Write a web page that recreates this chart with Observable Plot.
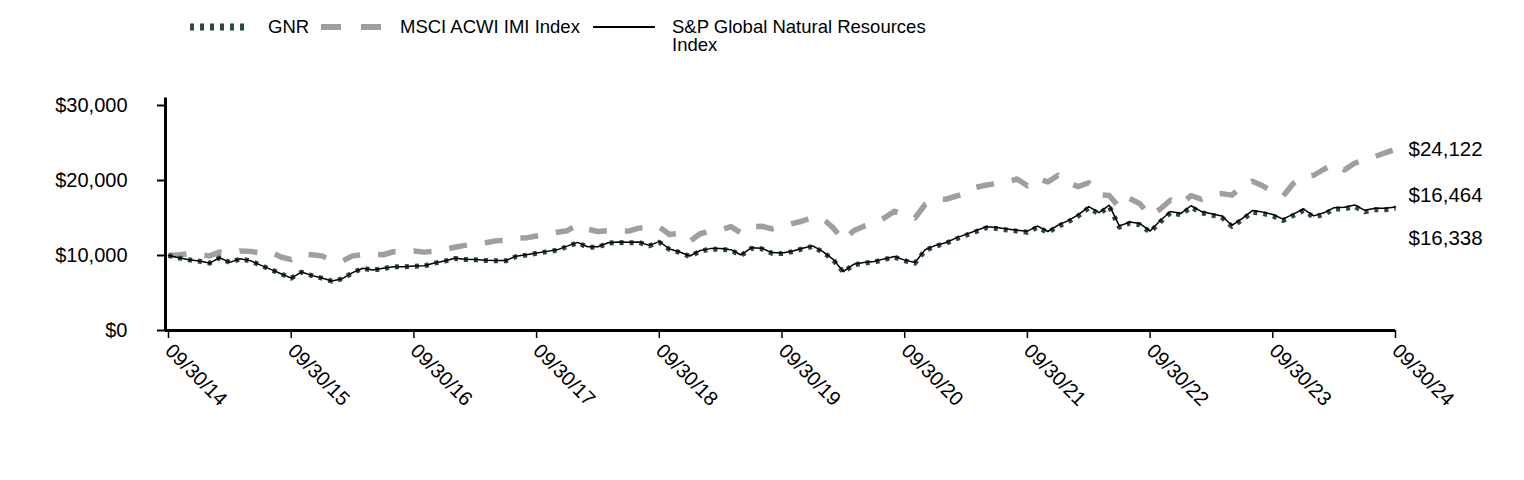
<!DOCTYPE html>
<html><head><meta charset="utf-8">
<script src="https://cdn.jsdelivr.net/npm/d3@7"></script>
<script src="https://cdn.jsdelivr.net/npm/@observablehq/plot@0.6"></script>
<style>
body{margin:0;background:#fff;font-family:"Liberation Sans",Arial,sans-serif;}
#legend{position:relative;height:65px;width:1524px;font-size:18.5px;color:#000;}
#legend .it{position:absolute;top:18px;line-height:18px;white-space:nowrap;}
#legend svg{position:absolute;}
</style></head><body>
<div id="legend"></div>
<div id="chart"></div>
<script>
// Series names
const seriesNames = ["GNR", "MSCI ACWI IMI Index", "S&P Global Natural Resources Index"];
// X tick labels (one per year, every 12 months)
const tickLabels = ["09/30/14","09/30/15","09/30/16","09/30/17","09/30/18","09/30/19","09/30/20","09/30/21","09/30/22","09/30/23","09/30/24"];
// Y ticks
const yTicks = [0, 10000, 20000, 30000];

// Monthly values, 09/30/14 .. 09/30/24
const gnr = [
10000, 9689, 9422, 9244, 8978, 9689, 9067, 9550, 9300, 8700,
8133, 7556, 6978, 7778, 7333, 6978, 6578, 6889, 7700, 8280,
8044, 8267, 8489, 8489, 8578, 8600, 8978, 9244, 9600, 9467,
9422, 9333, 9289, 9289, 9867, 10050, 10300, 10500, 10700, 11200,
11689, 11111, 11111, 11644, 11733, 11689, 11733, 11289, 11778, 10800,
10400, 9867, 10600, 10844, 10844, 10700, 10000, 10950, 10900, 10311,
10250, 10500, 10889, 11200, 10444, 9422, 7778, 8756, 8978, 9111,
9467, 9778, 9300, 8978, 10667, 11244, 11600, 12200, 12700, 13200,
13700, 13600, 13400, 13250, 13111, 13778, 13067, 13900, 14500, 15300,
16356, 15556, 16533, 13778, 14300, 14100, 13111, 14500, 15700, 15422,
16444, 15700, 15400, 15100, 13867, 14756, 15800, 15600, 15289, 14667,
15333, 16000, 15100, 15500, 16178, 16222, 16533, 15822, 16089, 16089,
16338
];
const sp = [
10000, 9692, 9428, 9252, 8988, 9701, 9080, 9565, 9317, 8716,
8148, 7570, 6991, 7795, 7350, 6994, 6594, 6907, 7720, 8302,
8066, 8290, 8514, 8515, 8606, 8629, 9009, 9277, 9635, 9503,
9459, 9371, 9328, 9329, 9910, 10095, 10347, 10550, 10752, 11255,
11748, 11168, 11169, 11706, 11797, 11754, 11800, 11355, 11848, 10866,
10465, 9930, 10670, 10917, 10918, 10774, 10070, 11027, 10978, 10386,
10325, 10578, 10970, 11285, 10524, 9495, 7840, 8827, 9052, 9187,
9547, 9862, 9381, 9057, 10763, 11346, 11706, 12313, 12819, 13326,
13833, 13733, 13532, 13382, 13242, 13917, 13200, 14042, 14650, 15460,
16527, 15720, 16709, 13925, 14455, 14254, 13254, 14661, 15875, 15595,
16630, 15878, 15576, 15274, 14029, 14929, 15986, 15785, 15472, 14844,
15519, 16195, 15287, 15692, 16380, 16426, 16744, 16025, 16298, 16300,
16464
];
const msci = [
10000, 10100, 10250, 10100, 9950, 10450, 10350, 10600, 10550, 10350,
10450, 9800, 9450, 10150, 10100, 9950, 9300, 9250, 9950, 10100,
10150, 10100, 10500, 10550, 10600, 10450, 10550, 10800, 11100, 11350,
11500, 11700, 11950, 12000, 12300, 12350, 12600, 12850, 13100, 13300,
14100, 13500, 13200, 13300, 13300, 13250, 13650, 13800, 13800, 12800,
12950, 11900, 12900, 13250, 13400, 13850, 13000, 13850, 13900, 13550,
13900, 14250, 14600, 15100, 14900, 13700, 12000, 13300, 13900, 14300,
15000, 15900, 15400, 15000, 16800, 17500, 17500, 17900, 18300, 19100,
19400, 19600, 19800, 20200, 19300, 20300, 19800, 20700, 19600, 19200,
19700, 18100, 18000, 16400, 17600, 16900, 15300, 16200, 17400, 16800,
18000, 17500, 18000, 18250, 18050, 19200, 19900, 19300, 18500, 17900,
19600, 20500, 20700, 21500, 22200, 21400, 22300, 22800, 23200, 23700,
24122
];

const GREEN = "#2c4a3e", GRAY = "#a29d9e";

// Legend
const legend = document.getElementById("legend");
function swatch(left, width, attrs) {
  const ns = "http://www.w3.org/2000/svg";
  const s = document.createElementNS(ns, "svg");
  s.setAttribute("width", width); s.setAttribute("height", 14);
  s.style.left = left + "px"; s.style.top = "20px";
  const l = document.createElementNS(ns, "line");
  l.setAttribute("x1", 0); l.setAttribute("x2", width);
  l.setAttribute("y1", 7); l.setAttribute("y2", 7);
  for (const k in attrs) l.setAttribute(k, attrs[k]);
  s.appendChild(l); legend.appendChild(s);
}
function label(left, html) {
  const d = document.createElement("div");
  d.className = "it"; d.style.left = left + "px"; d.innerHTML = html;
  legend.appendChild(d);
}
swatch(190, 56, {stroke: GREEN, "stroke-width": 7, "stroke-dasharray": "4,6"});
label(268, seriesNames[0]);
swatch(321, 62, {stroke: GRAY, "stroke-width": 6, "stroke-dasharray": "20,20"});
label(400, seriesNames[1]);
swatch(593, 62, {stroke: "#000", "stroke-width": 2});
label(672, "S&amp;P Global Natural Resources<br>Index");

// Table
const data = gnr.map((v, i) => ({i, gnr: v, sp: sp[i], msci: msci[i]}));
const last = data[data.length - 1];
const money = d => "$" + d3.format(",")(d);
const tickPos = tickLabels.map((_, k) => k * 12);

const chart = Plot.plot({
  width: 1524, height: 415,
  marginLeft: 165, marginRight: 129, marginTop: 32.5, marginBottom: 150,
  insetLeft: 3,
  style: {fontFamily: "Liberation Sans, Arial, sans-serif", fontSize: "20px", color: "#000", background: "#fff", overflow: "visible"},
  x: {domain: [0, data.length - 1]},
  y: {domain: [0, 31000]},
  marks: [
    Plot.axisY({ticks: yTicks, tickFormat: money, tickSize: 8, tickPadding: 30, label: null, strokeWidth: 2}),
    Plot.axisX({ticks: tickPos, tickFormat: d => tickLabels[d / 12], tickRotate: 45, tickSize: 8, tickPadding: 9, label: null, strokeWidth: 1.5}),
    Plot.line(data, {x: "i", y: "msci", stroke: GRAY, strokeWidth: 5.5, strokeDasharray: "18,18", strokeLinecap: "butt"}),
    Plot.line(data, {x: "i", y: "gnr", stroke: GREEN, strokeWidth: 5, strokeDasharray: "4,6", strokeLinecap: "butt"}),
    Plot.line(data, {x: "i", y: "sp", stroke: "#000", strokeWidth: 1.5}),
    Plot.ruleX([0], {dx: -3, stroke: "#000", strokeWidth: 3}),
    Plot.ruleY([0], {stroke: "#000", strokeWidth: 3}),
    Plot.text([last], {x: "i", y: "msci", text: d => money(d.msci), textAnchor: "start", dx: 13, fontSize: 20.5}),
    Plot.text([last], {x: "i", y: "sp", text: d => money(d.sp), textAnchor: "start", dx: 13, dy: -12, fontSize: 20.5}),
    Plot.text([last], {x: "i", y: "gnr", text: d => money(d.gnr), textAnchor: "start", dx: 13, dy: 30, fontSize: 20.5})
  ]
});
document.getElementById("chart").appendChild(chart);
</script>
</body></html>
